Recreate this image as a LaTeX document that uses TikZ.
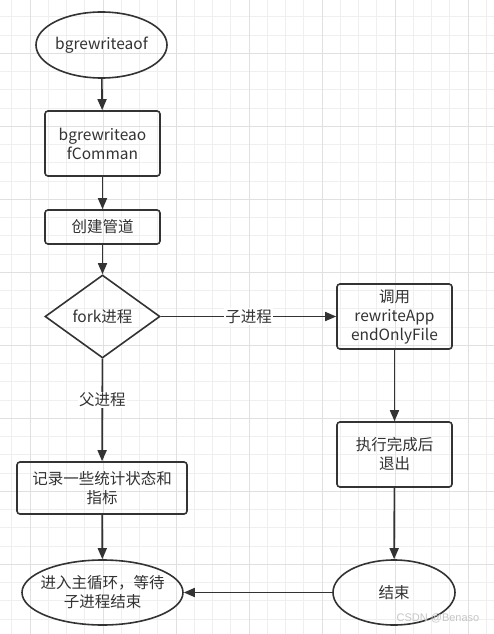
\documentclass[tikz,border=0pt]{standalone}
\usepackage{fontspec}
\setmainfont{Noto Sans CJK SC}
\newfontfamily\markfont{Liberation Sans}
\usetikzlibrary{shapes.geometric, arrows.meta}

\definecolor{linegray}{HTML}{333333}
\definecolor{gridminor}{HTML}{EFEFEF}
\definecolor{gridmajor}{HTML}{E0E0E0}

\tikzset{
    base/.style={draw=linegray, line width=1.6pt, text=linegray, align=center, inner sep=0pt,
        font=\fontsize{15.5}{19}\selectfont},
    terminal/.style={base, ellipse},
    procbox/.style={base, rectangle, rounded corners=3pt},
    decide/.style={base, diamond, aspect=1.4},
    flow/.style={draw=linegray, line width=1.6pt, -{Triangle[length=11pt,width=9pt]}},
    edgelabel/.style={fill=white, text=linegray, inner sep=1pt, font=\fontsize{15.5}{19}\selectfont}
}

\begin{document}
\begin{tikzpicture}[x=1pt, y=-1pt]
            \useasboundingbox (0,0) rectangle (494,634);
            \fill[white] (0,0) rectangle (494,634);

            % Grid
            \foreach \i in {-1,...,25}
                \draw[gridminor, line width=1pt] ({30+18.25*\i},0) -- ({30+18.25*\i},634);
            \foreach \i in {-2,...,31}
                \draw[gridminor, line width=1pt] (0,{53.3+18.25*\i}) -- (494,{53.3+18.25*\i});
            \foreach \j in {0,...,6}
                \draw[gridmajor, line width=1pt] ({30+73*\j},0) -- ({30+73*\j},634);
            \foreach \j in {0,...,7}
                \draw[gridmajor, line width=1pt] (0,{53.3+73*\j}) -- (494,{53.3+73*\j});

            % Left column
            \node[terminal, minimum width=131pt, minimum height=66pt] (start) at (101.5,45) {bgrewriteaof};
            \node[procbox, minimum width=115pt, minimum height=65pt] (cmd) at (102.5,143.5) {bgrewriteao\\fComman};
            \node[procbox, minimum width=115pt, minimum height=34pt] (pipe) at (102.5,227) {创建管道};
            \node[decide, minimum width=115pt, minimum height=83pt] (fork) at (102.5,316.5) {fork进程};
            \node[procbox, minimum width=170pt, minimum height=52pt] (record) at (102,488) {记录一些统计状态和\\指标};
            \node[terminal, inner xsep=-6pt, minimum width=161pt, minimum height=65pt] (wait) at (102.5,592.5) {进入主循环，等待\\子进程结束};

            % Right column
            \node[procbox, minimum width=115pt, minimum height=65pt] (call) at (394.5,316.5) {调用\\rewriteApp\\endOnlyFile};
            \node[procbox, minimum width=115pt, minimum height=65pt] (exit) at (394.5,454.5) {执行完成后\\退出};
            \node[terminal, minimum width=122pt, minimum height=65pt] (end) at (394,592.5) {结束};

            % Connectors
            \draw[flow] (start) -- (cmd);
            \draw[flow] (cmd) -- (pipe);
            \draw[flow] (pipe) -- (fork);
            \draw[flow] (fork) -- node[edgelabel, pos=0.4] {父进程} (record);
            \draw[flow] (fork) -- node[edgelabel, pos=0.5] {子进程} (call);
            \draw[flow] (record) -- (wait);
            \draw[flow] (call) -- (exit);
            \draw[flow] (exit) -- (end);
            \draw[flow] (end) -- (wait);

            % Watermark
            \node[text=gray!45, font=\markfont\fontsize{11}{12}\selectfont] (mark) at (438,618) {CSDN @Benaso};
\end{tikzpicture}
\end{document}
